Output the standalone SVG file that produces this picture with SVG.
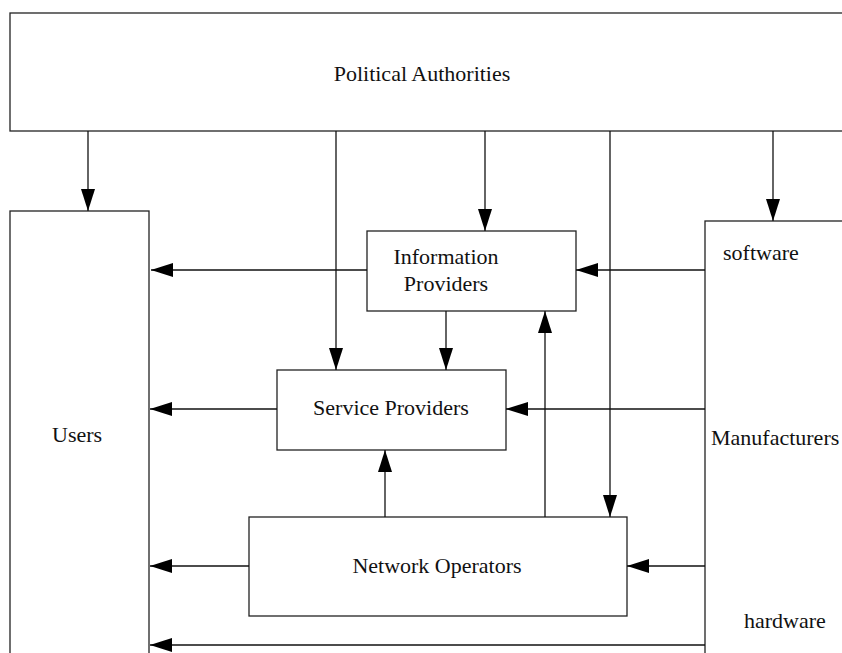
<svg xmlns="http://www.w3.org/2000/svg" width="842" height="653" viewBox="0 0 842 653">
<style>
.box{fill:#fff;stroke:#222;stroke-width:1.3}
.ln{fill:none;stroke:#111;stroke-width:1.3;marker-end:url(#ah)}
text{font-family:"Liberation Serif","Times New Roman",serif;font-size:22px;fill:#111}
</style>
<defs>
<marker id="ah" markerUnits="userSpaceOnUse" markerWidth="23" markerHeight="14" refX="22" refY="7" orient="auto" overflow="visible">
<path d="M0,0 L22,7 L0,14 z" fill="#000"/>
</marker>
</defs>
<rect width="842" height="653" fill="#fff"/>
<g id="political-authorities"><rect class="box" x="10" y="13" width="845" height="118"/><text x="422" y="81" text-anchor="middle">Political Authorities</text></g>
<g id="users"><rect class="box" x="10" y="211" width="139" height="460"/><text x="52" y="442">Users</text></g>
<g id="manufacturers"><rect class="box" x="705" y="221" width="160" height="450"/><text x="723" y="260">software</text><text x="711" y="445">Manufacturers</text><text x="744" y="628">hardware</text></g>
<g id="information-providers"><rect class="box" x="367" y="231" width="209" height="80"/><text x="446" y="264" text-anchor="middle">Information</text><text x="446" y="291" text-anchor="middle">Providers</text></g>
<g id="service-providers"><rect class="box" x="277" y="370" width="229" height="80"/><text x="391" y="415" text-anchor="middle">Service Providers</text></g>
<g id="network-operators"><rect class="box" x="249" y="517" width="378" height="99"/><text x="437" y="573" text-anchor="middle">Network Operators</text></g>
<g id="connectors">
<line class="ln" x1="88" y1="131" x2="88" y2="211"/>
<line class="ln" x1="336" y1="131" x2="336" y2="370"/>
<line class="ln" x1="485" y1="131" x2="485" y2="231"/>
<line class="ln" x1="610" y1="131" x2="610" y2="517"/>
<line class="ln" x1="773" y1="131" x2="773" y2="221"/>
<line class="ln" x1="367" y1="270" x2="151" y2="270"/>
<line class="ln" x1="446" y1="311" x2="446" y2="370"/>
<line class="ln" x1="277" y1="409" x2="150" y2="409"/>
<line class="ln" x1="705" y1="270" x2="576" y2="270"/>
<line class="ln" x1="705" y1="409" x2="506" y2="409"/>
<line class="ln" x1="385" y1="517" x2="385" y2="450"/>
<line class="ln" x1="545" y1="517" x2="545" y2="311"/>
<line class="ln" x1="249" y1="566" x2="150" y2="566"/>
<line class="ln" x1="705" y1="566" x2="627" y2="566"/>
<line class="ln" x1="705" y1="645" x2="150" y2="645"/>
</g>
</svg>
